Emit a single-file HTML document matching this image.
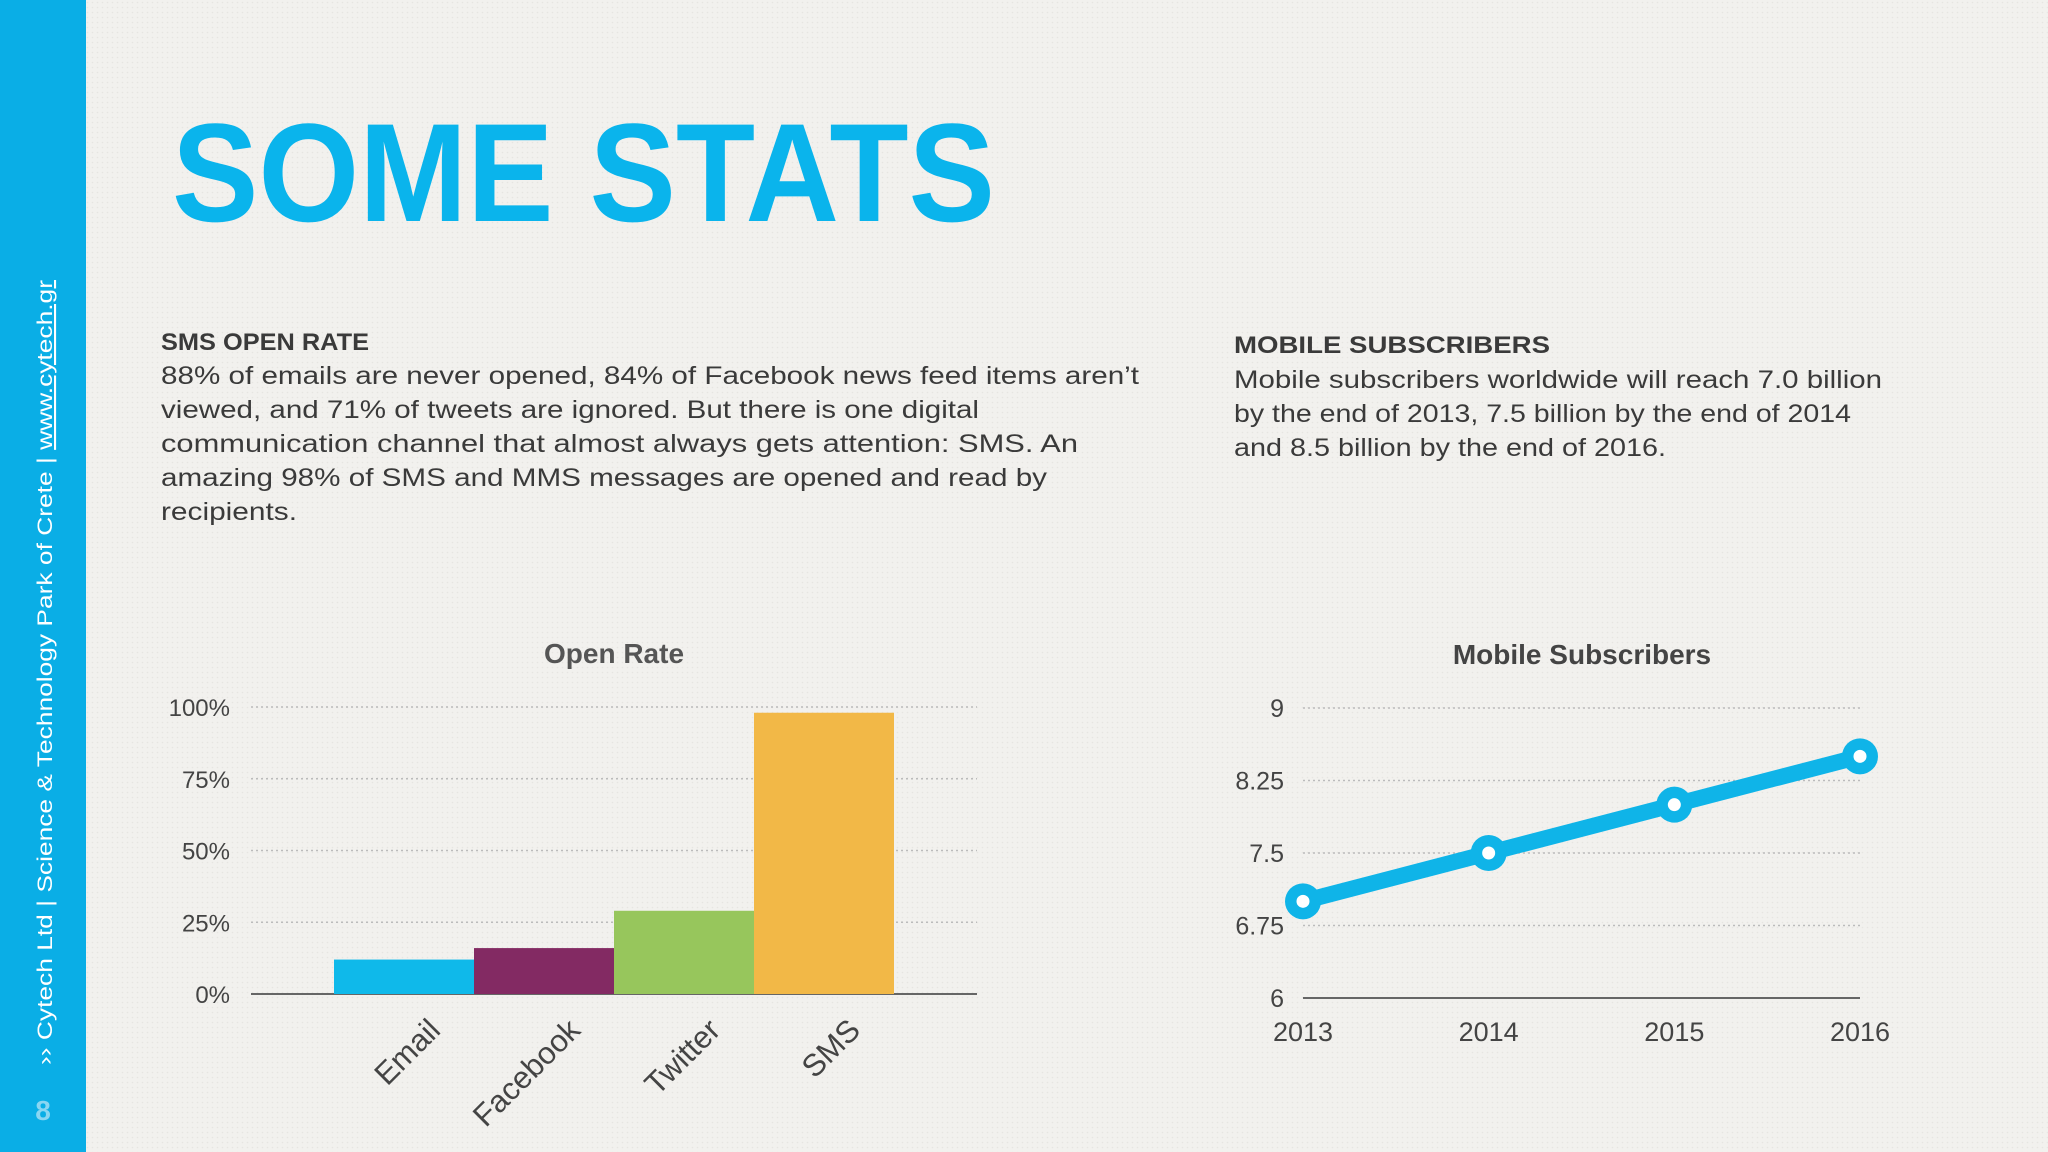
<!DOCTYPE html>
<html><head><meta charset="utf-8"><style>
html,body{margin:0;padding:0;background:#f1f0ed;}
svg{display:block;font-family:"Liberation Sans",sans-serif;}
</style></head><body>
<svg width="2048" height="1152" viewBox="0 0 2048 1152" xmlns="http://www.w3.org/2000/svg">
<defs>
<pattern id="dots" width="5" height="5" patternUnits="userSpaceOnUse"><rect width="5" height="5" fill="#f2f1ee"/><circle cx="2.5" cy="2.5" r="0.8" fill="#e6e5e1"/></pattern>
</defs>
<rect width="2048" height="1152" fill="url(#dots)"/>
<rect x="0" y="0" width="86" height="1152" fill="#0aaee6"/>
<text transform="translate(52,1065) rotate(-90)" font-size="21" fill="#fff" textLength="785" lengthAdjust="spacingAndGlyphs">›› Cytech Ltd  |  Science &amp; Technology Park of Crete  |  <tspan text-decoration="underline">www.cytech.gr</tspan></text>
<text x="43" y="1120" font-size="28" font-weight="bold" fill="#8ad6f2" text-anchor="middle">8</text>
<text x="172" y="221" font-size="140" font-weight="bold" fill="#0ab4ec" textLength="823" lengthAdjust="spacingAndGlyphs">SOME STATS</text>

<g fill="#3a3a3a" font-size="25">
<text x="161" y="350" font-weight="bold" font-size="24" textLength="208" lengthAdjust="spacingAndGlyphs">SMS OPEN RATE</text>
<text x="161" y="384" textLength="978" lengthAdjust="spacingAndGlyphs">88% of emails are never opened, 84% of Facebook news feed items aren’t</text>
<text x="161" y="418" textLength="818" lengthAdjust="spacingAndGlyphs">viewed, and 71% of tweets are ignored. But there is one digital</text>
<text x="161" y="452" textLength="917" lengthAdjust="spacingAndGlyphs">communication channel that almost always gets attention: SMS. An</text>
<text x="161" y="486" textLength="886" lengthAdjust="spacingAndGlyphs">amazing 98% of SMS and MMS messages are opened and read by</text>
<text x="161" y="520" textLength="136" lengthAdjust="spacingAndGlyphs">recipients.</text>
</g>
<g fill="#3a3a3a" font-size="25">
<text x="1234" y="353" font-weight="bold" font-size="24" textLength="316" lengthAdjust="spacingAndGlyphs">MOBILE SUBSCRIBERS</text>
<text x="1234" y="388" textLength="648" lengthAdjust="spacingAndGlyphs">Mobile subscribers worldwide will reach 7.0 billion</text>
<text x="1234" y="422" textLength="617" lengthAdjust="spacingAndGlyphs">by the end of 2013, 7.5 billion by the end of 2014</text>
<text x="1234" y="456" textLength="432" lengthAdjust="spacingAndGlyphs">and 8.5 billion by the end of 2016.</text>
</g>

<text x="614" y="663" font-size="28" font-weight="bold" fill="#555" text-anchor="middle">Open Rate</text>
<g id="bars"></g>
<text x="1582" y="664" font-size="28" font-weight="bold" fill="#444" text-anchor="middle">Mobile Subscribers</text>
<g id="line"></g>
</svg>
<script>
const barCategories = ["Email","Facebook","Twitter","SMS"];
const barValues = [12,16,29,98];
const barTicks = [0,25,50,75,100];
const barColors = ["#0fb9ea","#832a63","#97c65c","#f2b847"];
const lineYears = ["2013","2014","2015","2016"];
const lineValues = [7.0,7.5,8.0,8.5];
const lineTicks = [6,6.75,7.5,8.25,9];
const lineTickLabels = ["6","6.75","7.5","8.25","9"];

const NS="http://www.w3.org/2000/svg";
function mk(tag,attrs,parent){const e=document.createElementNS(NS,tag);for(const k in attrs)e.setAttribute(k,attrs[k]);parent.appendChild(e);return e;}

const bg=document.getElementById('bars');
const by=v=>994-(v/100)*287;
const bx=i=>334+i*140;
barTicks.forEach(t=>{
  const l=mk('line',{x1:251,x2:977,y1:by(t),y2:by(t),stroke:t===0?'#666':'#bbb','stroke-width':t===0?2:1.5,'stroke-dasharray':t===0?'none':'2 3'},bg);
  
  
  const tx=mk('text',{x:230,y:by(t)+9,'font-size':24,fill:'#444','text-anchor':'end'},bg);
  
  
  tx.textContent=t+'%';
});
barValues.forEach((v,i)=>{
  const r=mk('rect',{x:bx(i),y:by(v),width:140,height:by(0)-by(v),fill:barColors[i]},bg);
  
  
  const cx=bx(i)+70+38, cy=1032;
  const tx=mk('text',{x:cx,y:cy,'font-size':31,fill:'#444','text-anchor':'end',transform:`rotate(-45 ${cx} ${cy})`},bg);
  
  
  tx.textContent=barCategories[i];
});

const lg=document.getElementById('line');
const ly=v=>998-(v-6)/3*290;
const lx=i=>1303+i*(557/3);
lineTicks.forEach((t,i)=>{
  const l=mk('line',{x1:1303,x2:1860,y1:ly(t),y2:ly(t),stroke:t===6?'#666':'#bbb','stroke-width':t===6?2:1.5,'stroke-dasharray':t===6?'none':'2 3'},lg);
  
  
  const tx=mk('text',{x:1284,y:ly(t)+9,'font-size':25,fill:'#444','text-anchor':'end'},lg);
  
  
  tx.textContent=lineTickLabels[i];
});
const pts=lineValues.map((v,i)=>lx(i)+','+ly(v)).join(' ');
const pl=mk('polyline',{points:pts,fill:'none',stroke:'#0fb4e8','stroke-width':16,'stroke-linejoin':'round'},lg);


lineValues.forEach((v,i)=>{
  const c=mk('circle',{cx:lx(i),cy:ly(v),r:18,fill:'#0fb4e8'},lg);
  
  
  const c2=mk('circle',{cx:lx(i),cy:ly(v),r:6.5,fill:'#fff'},lg);
  
  
  const tx=mk('text',{x:lx(i),y:1041,'font-size':27,fill:'#444','text-anchor':'middle'},lg);
  
  
  tx.textContent=lineYears[i];
});
</script>
</body></html>
